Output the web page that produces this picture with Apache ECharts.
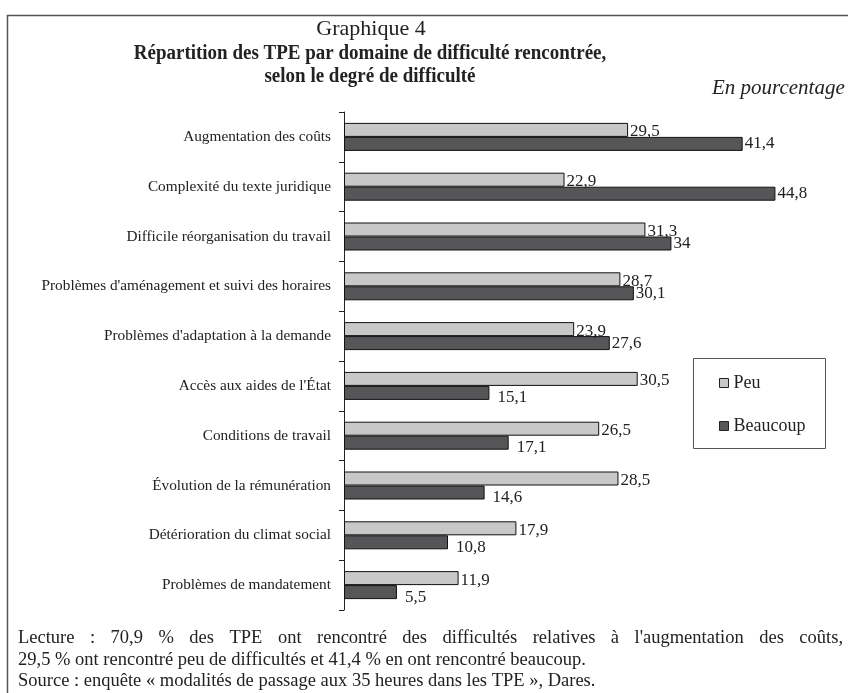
<!DOCTYPE html>
<html><head><meta charset="utf-8">
<script src="https://cdn.jsdelivr.net/npm/echarts@6/dist/echarts.min.js"></script>
<style>html,body{margin:0;padding:0;background:#fff}#c{width:848px;height:693px}</style>
</head><body><div id="c"></div>
<script>
const categories = [
  "Augmentation des coûts",
  "Complexité du texte juridique",
  "Difficile réorganisation du travail",
  "Problèmes d'aménagement et suivi des horaires",
  "Problèmes d'adaptation à la demande",
  "Accès aux aides de l'État",
  "Conditions de travail",
  "Évolution de la rémunération",
  "Détérioration du climat social",
  "Problèmes de mandatement"
];
const peu = [29.5, 22.9, 31.3, 28.7, 23.9, 30.5, 26.5, 28.5, 17.9, 11.9];
const beaucoup = [41.4, 44.8, 34, 30.1, 27.6, 15.1, 17.1, 14.6, 10.8, 5.5];
const seriesNames = ["Peu", "Beaucoup"];
const noteLines = [
  "Lecture : 70,9 % des TPE ont rencontré des difficultés relatives à l'augmentation des coûts,",
  "29,5 % ont rencontré peu de difficultés et 41,4 % en ont rencontré beaucoup.",
  "Source : enquête « modalités de passage aux 35 heures dans les TPE », Dares."
];

const FONT = '"Liberation Serif", "Times New Roman", serif';
const fmt = v => String(v).replace('.', ',');

const chart = echarts.init(document.getElementById('c'), null, {renderer: 'canvas'});

const beaucoupData = beaucoup.map((v, i) => {
  const shifted = v < peu[i] - 5;
  return {value: v, label: {offset: shifted ? [6, 5] : [0, 0]}};
});

// footnote: first line justified between x=18 and x=843
const noteFont = '18.5px ' + FONT;
const ctx = document.createElement('canvas').getContext('2d');
ctx.font = noteFont;
const graphics = [
  {type: 'rect', shape: {x: 7.5, y: 15.5, width: 860, height: 700},
   style: {fill: 'none', stroke: '#555', lineWidth: 1.5}, silent: true},
  {type: 'text', x: 371, y: 29, style: {text: 'Graphique 4', font: '22px ' + FONT, fill: '#222', align: 'center', verticalAlign: 'middle'}},
  {type: 'text', x: 370, y: 53.5, scaleX: 0.95, scaleY: 1.03,
   style: {text: 'Répartition des TPE par domaine de difficulté rencontrée,', font: 'bold 20px ' + FONT, fill: '#222', align: 'center', verticalAlign: 'middle'}},
  {type: 'text', x: 370, y: 76.5, scaleX: 0.95, scaleY: 1.03,
   style: {text: 'selon le degré de difficulté', font: 'bold 20px ' + FONT, fill: '#222', align: 'center', verticalAlign: 'middle'}},
  {type: 'text', x: 712, y: 88,
   style: {text: 'En pourcentage', font: 'italic 21px ' + FONT, fill: '#222', verticalAlign: 'middle'}},
  {type: 'rect', shape: {x: 693.5, y: 358.5, width: 132, height: 90},
   style: {fill: 'none', stroke: '#555', lineWidth: 1}, silent: true}
];
(function () {
  const words = noteLines[0].split(' ');
  const widths = words.map(w => ctx.measureText(w).width);
  const total = widths.reduce((a, b) => a + b, 0);
  const gap = (843 - 18 - total) / (words.length - 1);
  let x = 18;
  words.forEach((w, i) => {
    graphics.push({type: 'text', x: x, y: 638, style: {text: w, font: noteFont, fill: '#222', verticalAlign: 'middle'}});
    x += widths[i] + gap;
  });
  noteLines.slice(1).forEach((t, i) => {
    graphics.push({type: 'text', x: 18, y: 660 + i * 21.5, style: {text: t, font: noteFont, fill: '#222', verticalAlign: 'middle'}});
  });
})();

chart.setOption({
  animation: false,
  backgroundColor: '#fff',
  textStyle: {fontFamily: FONT, color: '#222'},
  graphic: graphics,
  legend: {
    orient: 'vertical', left: 719, top: 374, padding: 0, itemGap: 25,
    itemWidth: 9, itemHeight: 9, icon: 'rect',
    textStyle: {fontFamily: FONT, fontSize: 18, color: '#222', lineHeight: 18},
    itemStyle: {borderColor: '#222', borderWidth: 1},
    data: seriesNames
  },
  grid: {left: 344, top: 112, width: 481.5, height: 498, containLabel: false},
  xAxis: {type: 'value', min: 0, max: 50, show: false},
  yAxis: {
    type: 'category', data: categories, inverse: true,
    axisLine: {show: true, lineStyle: {color: '#222', width: 1}},
    axisTick: {show: true, length: 5, lineStyle: {color: '#222'}},
    axisLabel: {fontFamily: FONT, fontSize: 15.3, color: '#222', margin: 13}
  },
  series: [
    {name: seriesNames[0], type: 'bar', data: peu, barWidth: 14, barGap: '0%',
     itemStyle: {color: '#c8c8c8', borderColor: '#111', borderWidth: 1},
     label: {show: true, position: 'right', distance: 2, offset: [0, 2], formatter: p => fmt(p.value),
       fontFamily: FONT, fontSize: 17, color: '#222'}},
    {name: seriesNames[1], type: 'bar', data: beaucoupData, barWidth: 14, barGap: '0%',
     itemStyle: {color: '#565658', borderColor: '#111', borderWidth: 1},
     label: {show: true, position: 'right', distance: 2, formatter: p => fmt(p.value),
       fontFamily: FONT, fontSize: 17, color: '#222'}}
  ]
});
</script></body></html>
